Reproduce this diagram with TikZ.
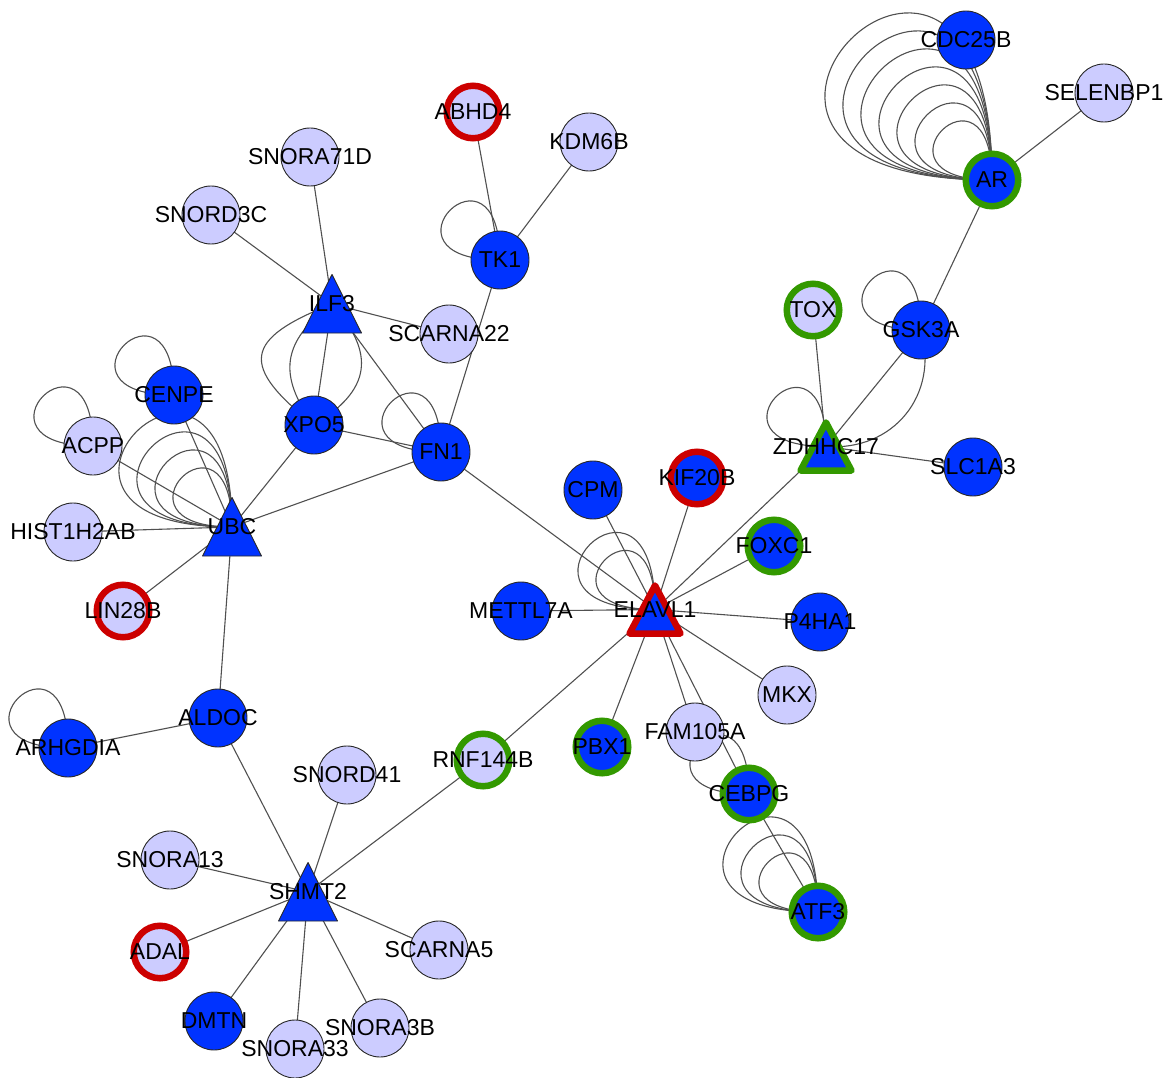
\documentclass[tikz,border=0pt]{standalone}
\usepackage{fontspec}
\setmainfont{Liberation Sans}
\usetikzlibrary{calc}
\pgfdeclarelayer{edgelayer}
\pgfdeclarelayer{trilayer}
\pgfsetlayers{edgelayer,trilayer,main}
\definecolor{nblue}{RGB}{0,51,255}
\definecolor{nlight}{RGB}{204,204,255}
\definecolor{nred}{RGB}{204,0,0}
\definecolor{ngreen}{RGB}{51,153,0}
\definecolor{nedge}{RGB}{80,80,80}
\definecolor{nborder}{RGB}{40,40,40}
\newcommand\nlab[1]{\makebox[0pt]{#1}}
\begin{document}
\begin{tikzpicture}[x=1pt,y=1pt,
  every node/.style={font=\fontsize{23}{23}\selectfont},
  base/.style={circle, inner sep=0pt, minimum size=58pt, draw=nborder, line width=0.9pt},
  bn/.style={base, fill=nblue},
  ln/.style={base, fill=nlight},
  ring/.style={line width=6.5pt, minimum size=52.5pt},
  bnR/.style={bn, ring, draw=nred},
  bnG/.style={bn, ring, draw=ngreen},
  lnR/.style={ln, ring, draw=nred},
  lnG/.style={ln, ring, draw=ngreen},
  tn/.style={circle, inner sep=0pt, minimum size=58pt},
  tri/.style={fill=nblue, draw=nborder, line width=0.9pt, line join=round},
  edge/.style={draw=nedge, line width=1.1pt},
]
\useasboundingbox (0,0) rectangle (1172,-1078);

% nodes
\node[bn]  (CDC25B)   at (966,-40)   {\nlab{CDC25B}};
\node[ln]  (SELENBP1) at (1104,-93)  {\nlab{SELENBP1}};
\node[bnG] (AR)       at (992,-180)  {\nlab{AR}};
\node[bn]  (GSK3A)    at (921,-330)  {\nlab{GSK3A}};
\node[lnG] (TOX)      at (813,-310)  {\nlab{TOX}};
\node[tn]  (ZDHHC17)  at (826,-446.5){\nlab{ZDHHC17}};
\node[bn]  (SLC1A3)   at (973,-467)  {\nlab{SLC1A3}};
\node[bnR] (KIF20B)   at (697,-478)  {\nlab{KIF20B}};
\node[bn]  (CPM)      at (593,-490)  {\nlab{CPM}};
\node[bnG] (FOXC1)    at (774,-546)  {\nlab{FOXC1}};
\node[tn]  (ELAVL1)   at (655,-609.5){\nlab{ELAVL1}};
\node[bn]  (METTL7A)  at (521,-611)  {\nlab{METTL7A}};
\node[bn]  (P4HA1)    at (820,-622)  {\nlab{P4HA1}};
\node[ln]  (MKX)      at (787,-695)  {\nlab{MKX}};
\node[ln]  (FAM105A)  at (695,-732)  {\nlab{FAM105A}};
\node[bnG] (PBX1)     at (602,-747)  {\nlab{PBX1}};
\node[lnG] (RNF144B)  at (483,-760)  {\nlab{RNF144B}};
\node[bnG] (CEBPG)    at (749,-794)  {\nlab{CEBPG}};
\node[bnG] (ATF3)     at (818,-912)  {\nlab{ATF3}};
\node[lnR] (ABHD4)    at (473,-112)  {\nlab{ABHD4}};
\node[ln]  (KDM6B)    at (589,-142)  {\nlab{KDM6B}};
\node[bn]  (TK1)      at (500,-260)  {\nlab{TK1}};
\node[ln]  (SNORA71D) at (310,-157)  {\nlab{SNORA71D}};
\node[ln]  (SNORD3C)  at (211,-215)  {\nlab{SNORD3C}};
\node[tn]  (ILF3)     at (332,-304)  {\nlab{ILF3}};
\node[ln]  (SCARNA22) at (449,-334)  {\nlab{SCARNA22}};
\node[bn]  (XPO5)     at (314,-425)  {\nlab{XPO5}};
\node[bn]  (FN1)      at (441,-452)  {\nlab{FN1}};
\node[bn]  (CENPE)    at (174,-395)  {\nlab{CENPE}};
\node[ln]  (ACPP)     at (93,-446)   {\nlab{ACPP}};
\node[ln]  (HIST1H2AB) at (73,-532)  {\nlab{HIST1H2AB}};
\node[tn]  (UBC)      at (232,-527)  {\nlab{UBC}};
\node[lnR] (LIN28B)   at (123,-611)  {\nlab{LIN28B}};
\node[bn]  (ALDOC)    at (218,-718)  {\nlab{ALDOC}};
\node[bn]  (ARHGDIA)  at (68,-748)   {\nlab{ARHGDIA}};
\node[ln]  (SNORD41)  at (347,-775)  {\nlab{SNORD41}};
\node[ln]  (SNORA13)  at (170,-860)  {\nlab{SNORA13}};
\node[tn]  (SHMT2)    at (308,-892)  {\nlab{SHMT2}};
\node[lnR] (ADAL)     at (160,-952)  {\nlab{ADAL}};
\node[ln]  (SCARNA5)  at (439,-950)  {\nlab{SCARNA5}};
\node[bn]  (DMTN)     at (214,-1021) {\nlab{DMTN}};
\node[ln]  (SNORA33)  at (295,-1049) {\nlab{SNORA33}};
\node[ln]  (SNORA3B)  at (380,-1028) {\nlab{SNORA3B}};

% triangles
\begin{pgfonlayer}{trilayer}
\foreach \t in {UBC,ILF3,SHMT2}
  \path[tri] ($(\t.center)+(0,29.5)$) -- ($(\t.center)+(29.5,-29)$) -- ($(\t.center)+(-29.5,-29)$) -- cycle;
\path[tri, draw=nred, line width=6.5pt] ($(ELAVL1.center)+(0,24)$) -- ($(ELAVL1.center)+(25.5,-24)$) -- ($(ELAVL1.center)+(-25.5,-24)$) -- cycle;
\path[tri, draw=ngreen, line width=6.5pt] ($(ZDHHC17.center)+(0,24)$) -- ($(ZDHHC17.center)+(25.5,-24)$) -- ($(ZDHHC17.center)+(-25.5,-24)$) -- cycle;
\end{pgfonlayer}

% edges
\begin{pgfonlayer}{edgelayer}
\foreach \a/\b in {AR/SELENBP1, AR/GSK3A, GSK3A/ZDHHC17, TOX/ZDHHC17, ZDHHC17/SLC1A3,
  ZDHHC17/ELAVL1, ELAVL1/CPM, ELAVL1/KIF20B, ELAVL1/FOXC1, ELAVL1/P4HA1, ELAVL1/MKX,
  ELAVL1/FAM105A, ELAVL1/CEBPG, ELAVL1/PBX1, ELAVL1/RNF144B, ELAVL1/METTL7A, ELAVL1/FN1,
  CEBPG/ATF3, RNF144B/SHMT2, SHMT2/ALDOC, SHMT2/SNORD41, SHMT2/SNORA13, SHMT2/ADAL,
  SHMT2/SCARNA5, SHMT2/DMTN, SHMT2/SNORA33, SHMT2/SNORA3B, ALDOC/UBC, ALDOC/ARHGDIA,
  UBC/CENPE, UBC/ACPP, UBC/HIST1H2AB, UBC/LIN28B, UBC/XPO5, UBC/FN1, XPO5/FN1, ILF3/XPO5,
  ILF3/SNORA71D, ILF3/SNORD3C, ILF3/SCARNA22, ILF3/FN1, FN1/TK1, TK1/ABHD4, TK1/KDM6B}
  \draw[edge] (\a.center) -- (\b.center);
\draw[edge] (GSK3A.center) to[bend left=55, looseness=1.15] (ZDHHC17.center);
\draw[edge] (ILF3.center) to[bend right=60, looseness=2] (XPO5.center);
\draw[edge] (ILF3.center) to[bend right=45, looseness=1.3] (XPO5.center);
\draw[edge] (ILF3.center) to[bend left=50, looseness=1.4] (XPO5.center);
% self loops
\foreach \n/\c in {AR/7, UBC/4, ATF3/3, ELAVL1/2, GSK3A/1, ZDHHC17/1, TK1/1, CENPE/1,
  ACPP/1, ARHGDIA/1, FN1/1, CEBPG/1}{
  \foreach \k in {1,...,\c}{
    \pgfmathsetmacro\dd{133+40.5*(\k-1)}
    \draw[edge] (\n.center) .. controls +(180:\dd) and +(90:\dd) .. (\n.center);
  }
}
\end{pgfonlayer}
\end{tikzpicture}
\end{document}
